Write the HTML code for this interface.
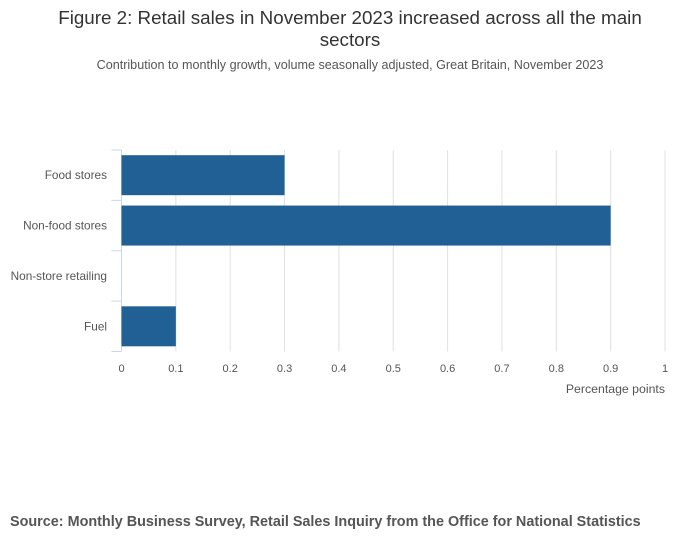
<!DOCTYPE html>
<html><head><meta charset="utf-8"><style>
body{margin:0;background:#fff;font-family:"Liberation Sans",sans-serif;}
svg text{font-family:"Liberation Sans",sans-serif;}
</style></head><body>
<svg width="700" height="549" id="c">
<text x="350" y="24" text-anchor="middle" font-size="18.8" fill="#333">Figure 2: Retail sales in November 2023 increased across all the main</text>
<text x="350" y="46" text-anchor="middle" font-size="18.8" fill="#333">sectors</text>
<text x="350" y="69" text-anchor="middle" font-size="12.6" fill="#555">Contribution to monthly growth, volume seasonally adjusted, Great Britain, November 2023</text>
<g id="plot"></g>
<text x="665" y="393" text-anchor="end" font-size="12.3" fill="#555">Percentage points</text>
<text x="10" y="526" font-size="14.4" font-weight="bold" fill="#555">Source: Monthly Business Survey, Retail Sales Inquiry from the Office for National Statistics</text>
</svg>
<script>
const categories=["Food stores","Non-food stores","Non-store retailing","Fuel"];
const values=[0.3,0.9,0,0.1];
const ticks=[0,0.1,0.2,0.3,0.4,0.5,0.6,0.7,0.8,0.9,1];
const tickLabels=["0","0.1","0.2","0.3","0.4","0.5","0.6","0.7","0.8","0.9","1"];
const ns="http://www.w3.org/2000/svg";
const g=document.getElementById('plot');
const x0=121.5,x1=665,yTop=150,yBot=351.5;
const xs=v=>x0+(x1-x0)*v;
const band=(yBot-yTop)/categories.length;
function mk(t,a){const e=document.createElementNS(ns,t);for(const k in a)e.setAttribute(k,a[k]);g.appendChild(e);return e;}
ticks.forEach((t,i)=>{
 if(i>0){const l=mk('line',{x1:xs(t),x2:xs(t),y1:yTop,y2:yBot,stroke:'#e0e0e0'});
 
 }
 const tx=mk('text',{x:xs(t),y:372,'text-anchor':'middle','font-size':11,fill:'#555'});
 tx.textContent=tickLabels[i];
 
 
});
const ax=mk('line',{x1:x0,x2:x0,y1:yTop,y2:yBot,stroke:'#ccd6eb'});


for(let i=0;i<=categories.length;i++){
 const tk=mk('line',{x1:x0-10,x2:x0,y1:yTop+band*i,y2:yTop+band*i,stroke:'#ccd6eb'});
 
 
}
categories.forEach((c,i)=>{
 const yc=yTop+band*(i+0.5);
 const t=mk('text',{x:107,y:yc+4,'text-anchor':'end','font-size':11.8,fill:'#555'});
 t.textContent=c;
 
 
 if(values[i]>0){
  const r=mk('rect',{x:x0,y:yc-20,width:xs(values[i])-x0,height:40,fill:'#206095'});
  
  
 }
});
</script>
</body></html>
